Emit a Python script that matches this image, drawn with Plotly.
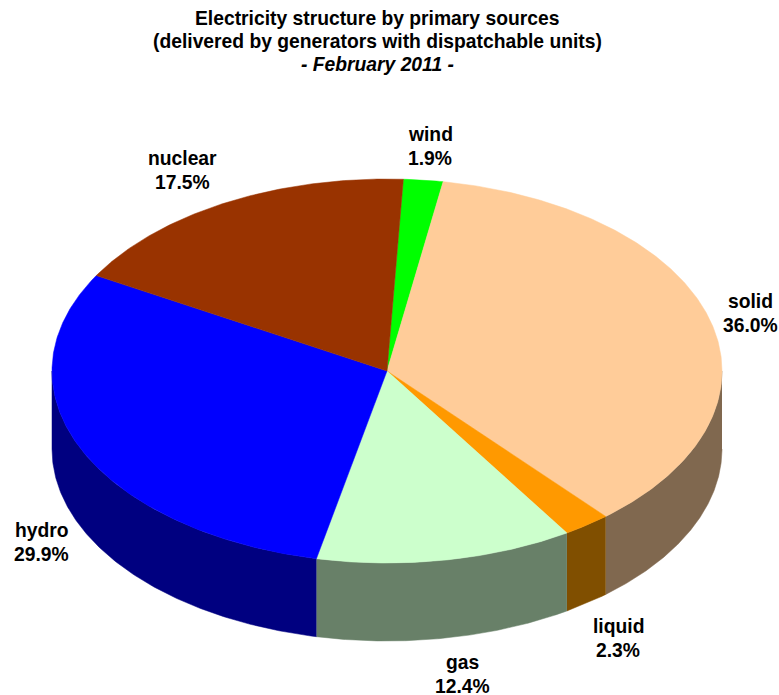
import numpy as np
import plotly.graph_objects as go

# Data
categories = ["wind", "solid", "liquid", "gas", "hydro", "nuclear"]
values = [1.9, 36.0, 2.3, 12.4, 29.9, 17.5]
labels = ["1.9%", "36.0%", "2.3%", "12.4%", "29.9%", "17.5%"]
title_lines = [
    "<b>Electricity structure by primary sources</b>",
    "<b>(delivered by generators with dispatchable units)</b>",
    "<b><i>- February 2011 -</i></b>",
]

# Styles
top_colors = ["#00FF00", "#FFCC99", "#FF9900", "#CCFFCC", "#0000FF", "#993300"]
side_colors = ["#008000", "#80684F", "#804F00", "#688068", "#000080", "#4D1A00"]

# Geometry of the projected pie, in figure pixels
CX, CY, RX, RY, DEPTH = 387.0, 371.0, 335.0, 192.0, 78.0
START = 2.8
FONT_SIZE = 19.3
LABEL_POS = {
    "wind": (430, 146.5), "solid": (750, 313), "liquid": (618, 638),
    "gas": (462, 674), "hydro": (41.5, 542.5), "nuclear": (182.5, 170),
}
TITLE_X = 377
TITLE_Y = [18, 41, 64]
LINE_GAP = 12


def ex(t):
    return CX + RX * np.sin(np.radians(t))


def ey(t, dz=0.0):
    return CY - RY * np.cos(np.radians(t)) + dz


fig = go.Figure()

edges = START + np.cumsum([0] + values) * 3.6
tops, sides = [], []
for i, cat in enumerate(categories):
    a, b = edges[i], edges[i + 1]
    # visible side wall: where the rim runs along the front half (90..270)
    lo, hi = max(a, 90), min(b, 270)
    if lo < hi:
        t = np.linspace(lo, hi, 160)
        sx = np.concatenate([ex(t), ex(t[::-1])])
        sy = np.concatenate([ey(t), ey(t[::-1], DEPTH)])
        sides.append((cat, sx, sy, side_colors[i]))
    t = np.linspace(a, b, max(int((b - a) * 2), 12))
    tx = np.concatenate([[CX], ex(t), [CX]])
    ty = np.concatenate([[CY], ey(t), [CY]])
    tops.append((cat, tx, ty, top_colors[i]))

for cat, x, y, c in sides + tops:
    fig.add_trace(go.Scatter(
        x=x, y=y, mode="lines", fill="toself", fillcolor=c,
        line=dict(color=c, width=0.5), name=cat,
        hoverinfo="name", showlegend=False,
    ))

font = dict(family="Liberation Sans", size=FONT_SIZE, color="black")


def add_text(x, y, text):
    fig.add_annotation(x=x, y=y, xref="x", yref="y", showarrow=False,
                       align="center", text=text, font=font)


for cat, lab in zip(categories, labels):
    px, py = LABEL_POS[cat]
    add_text(px, py - LINE_GAP, f"<b>{cat}</b>")
    add_text(px, py + LINE_GAP, f"<b>{lab}</b>")

for line, y in zip(title_lines, TITLE_Y):
    add_text(TITLE_X, y, line)

fig.update_layout(
    width=779, height=695, autosize=False,
    margin=dict(l=0, r=0, t=0, b=0),
    paper_bgcolor="white", plot_bgcolor="white",
    showlegend=False,
    xaxis=dict(range=[0, 779], visible=False, fixedrange=True),
    yaxis=dict(range=[695, 0], visible=False, fixedrange=True),
)

fig.write_html("out.html", post_script="document.body.style.margin='0';",
               config={"displayModeBar": False})
